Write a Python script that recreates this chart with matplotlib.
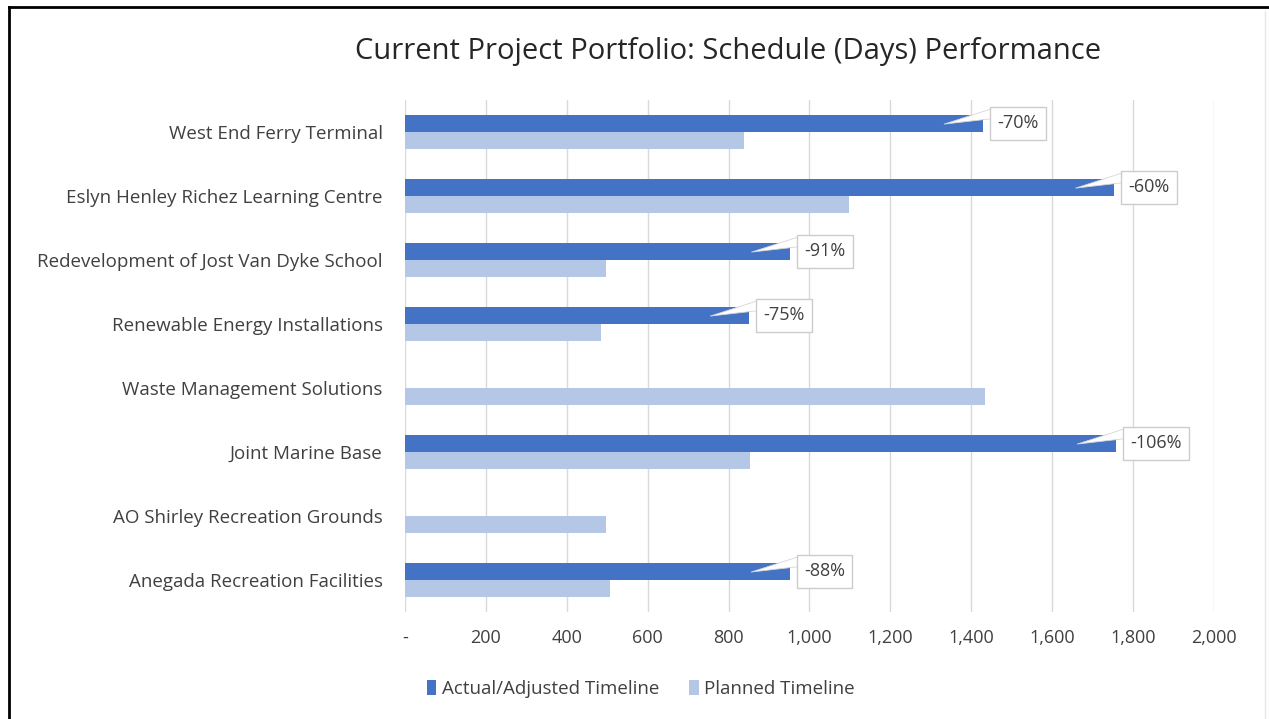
import numpy as np
import matplotlib.pyplot as plt
from matplotlib.lines import Line2D
from matplotlib.ticker import FuncFormatter

plt.rcParams['font.family'] = ['Open Sans', 'DejaVu Sans']

# data (days)
projects = ['West End Ferry Terminal', 'Eslyn Henley Richez Learning Centre',
            'Redevelopment of Jost Van Dyke School', 'Renewable Energy Installations',
            'Waste Management Solutions', 'Joint Marine Base',
            'AO Shirley Recreation Grounds', 'Anegada Recreation Facilities']
actual = [1428, 1753, 952, 850, 0, 1757, 0, 951]
planned = [838, 1098, 497, 486, 1435, 853, 497, 506]
variance_labels = ['-70%', '-60%', '-91%', '-75%', '', '-106%', '', '-88%']

dark = '#4472C4'
light = '#B4C7E7'
text_col = '#404040'

fig = plt.figure(figsize=(12.69, 7.19), dpi=100)
ax = fig.add_axes([0.319, 0.149, 0.6377, 0.712])

y = np.arange(len(projects))
h = 0.265
ax.barh(y - h / 2, actual, height=h, color=dark, label='Actual/Adjusted Timeline', zorder=3)
ax.barh(y + h / 2, planned, height=h, color=light, label='Planned Timeline', zorder=3)

# callout labels on the actual bars: pointer first, then the boxed text
for i, (v, lab) in enumerate(zip(actual, variance_labels)):
    if not lab:
        continue
    yc = i - h / 2
    ax.annotate('', xy=(v - 95, yc + 0.01), xytext=(v + 22, yc - 0.15), zorder=4,
                arrowprops=dict(arrowstyle='wedge,tail_width=0.7,shrink_factor=0.5',
                                fc='white', ec='#d6d6d6', lw=0.6,
                                shrinkA=0, shrinkB=0))
    ax.annotate(lab, xy=(v + 36, yc), ha='left', va='center', fontsize=13,
                color=text_col, zorder=5,
                bbox=dict(boxstyle='square,pad=0.4', fc='white', ec='#cccccc', lw=1))

ax.set_xlim(0, 2000)
ax.set_ylim(len(projects) - 0.5, -0.5)
ax.set_xticks(np.arange(0, 2001, 200))
ax.xaxis.set_major_formatter(FuncFormatter(lambda v, p: '-' if v == 0 else f'{int(v):,}'))
ax.set_yticks(y)
ax.set_yticklabels(projects)
ax.tick_params(axis='both', length=0, labelcolor=text_col)
ax.tick_params(axis='x', pad=12, labelsize=13)
ax.tick_params(axis='y', pad=16, labelsize=13.5)
ax.grid(axis='x', color='#d9d9d9', lw=1, zorder=0)
for s in ax.spines.values():
    s.set_visible(False)

fig.text(0.574, 0.928, 'Current Project Portfolio: Schedule (Days) Performance',
         ha='center', va='center', fontsize=21, color='#262626')

fig.legend(loc='center', bbox_to_anchor=(0.505, 0.042), ncol=2, frameon=False,
           fontsize=13.5, handlelength=0.5, handleheight=0.9, handletextpad=0.3,
           columnspacing=1.6, labelcolor=text_col)

# frame lines like the screenshot
fig.add_artist(Line2D([0.007, 0.007], [0, 0.99], transform=fig.transFigure, color='black', lw=2))
fig.add_artist(Line2D([0.007, 1.0], [0.99, 0.99], transform=fig.transFigure, color='black', lw=2))
fig.add_artist(Line2D([0.997, 0.997], [0, 0.985], transform=fig.transFigure, color='#e6e6e6', lw=1))

fig.savefig('out.png', dpi=100)
